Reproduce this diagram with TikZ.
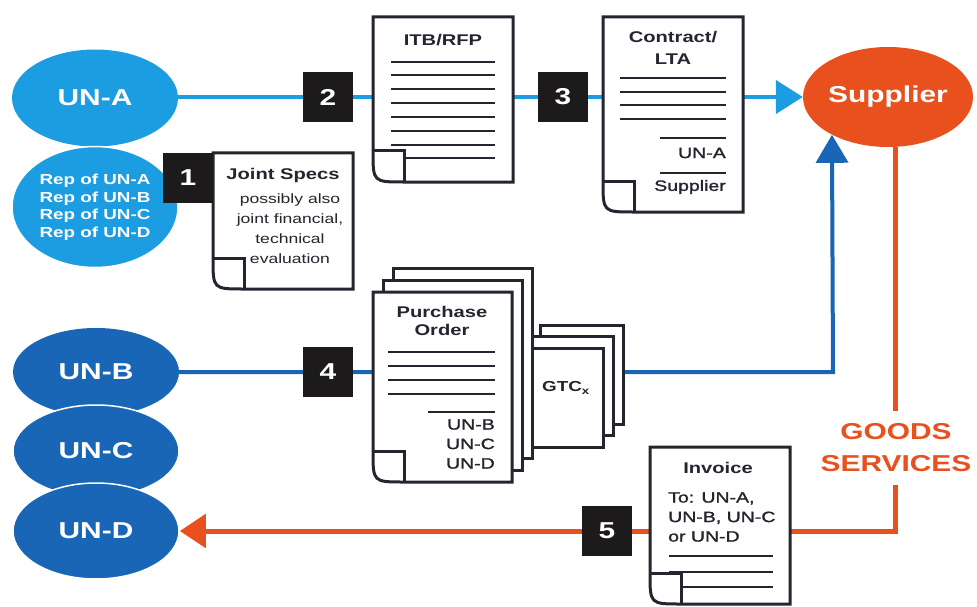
\documentclass[tikz,border=0pt]{standalone}
\usepackage{fontspec}
\setmainfont{Liberation Sans}[FakeStretch=1.3]
\newfontfamily\medfont{Liberation Sans}[FakeStretch=1.3,FakeBold=1.5]
\usepackage{xcolor}
\definecolor{cLight}{HTML}{1C9DE2}
\definecolor{cDark}{HTML}{1A66B6}
\definecolor{cOrange}{HTML}{E8511D}
\definecolor{cInk}{HTML}{25242F}
\definecolor{cBadge}{HTML}{1C1A1B}
\usetikzlibrary{positioning,arrows.meta,shapes.geometric,backgrounds}
\tikzset{
  node-party/.style={ellipse,inner sep=0pt,minimum width=166pt,text=white,
    align=center,font=\bfseries\fontsize{23}{25}\selectfont},
  node-light/.style={node-party,fill=cLight},
  node-dark/.style={node-party,fill=cDark},
  node-cover/.style={draw=white,line width=1.5pt},
  node-badge/.style={fill=cBadge,minimum size=50pt,inner sep=0pt,text=white,
    font=\bfseries\fontsize{23}{25}\selectfont},
  doc-frame/.style={draw=cInk,line width=3pt,fill=white},
  doc-rule/.style={draw=cInk,line width=2.6pt},
  doc-title/.style={text=cInk,align=center,inner sep=0pt,
    font=\bfseries\fontsize{15.5}{18}\selectfont},
  doc-text/.style={text=cInk,align=center,inner sep=0pt,
    font=\fontsize{13.5}{20}\selectfont},
  doc-item/.style={text=cInk,inner sep=0pt,font=\medfont\fontsize{15}{19.5}\selectfont},
  arrow-light/.style={-{Triangle[length=27pt,width=33pt]},line width=4.5pt,draw=cLight},
  arrow-dark/.style={-{Triangle[length=28pt,width=32pt]},line width=4pt,draw=cDark},
  arrow-orange/.style={-{Triangle[length=26pt,width=33pt]},line width=5pt,draw=cOrange},
  % page with a curled corner at the bottom left, origin at its top left
  pics/doc-page/.style n args={2}{code={
    \draw[doc-frame] (0,0) -- (#1,0) -- (#1,#2) -- (31,#2)
      .. controls (0,#2) .. (0,#2-31) -- cycle;
    \draw[doc-frame,fill=none] (0,#2-31) -- (31,#2-31) -- (31,#2);
  }},
  pics/doc-sheet/.style n args={2}{code={
    \draw[doc-frame] (0,0) rectangle (#1,#2);
  }},
}

\begin{document}
\begin{tikzpicture}[x=1pt,y=-1pt]
  \useasboundingbox (0,0) rectangle (977,607);

  % parties
  \node[node-light,minimum height=97pt] (una) at (95,98) {UN-A};
  \node[node-light,node-cover,minimum height=121pt,
    font=\bfseries\fontsize{14.5}{17.5}\selectfont] (reps) at (95,207)
    {Rep of UN-A\\Rep of UN-B\\Rep of UN-C\\Rep of UN-D};
  \node[node-party,fill=cOrange,minimum width=170pt,minimum height=100pt]
    (sup) at (888,97) {Supplier};
  \node[node-dark,minimum height=88pt] (unb) at (96,372) {UN-B};
  \node[node-dark,node-cover,minimum height=92pt] (unc) at (96,451) {UN-C};
  \node[node-dark,node-cover,minimum height=96pt] (und) at (96,531) {UN-D};

  % flows
  \coordinate (po-turn) at (833,372);
  \coordinate (goods-turn) at (895,531);
  \begin{scope}[on background layer]
    \draw[arrow-light] (una.east |- sup) -- (sup);
    \draw[arrow-dark] (unb) -- (po-turn) -- (sup.214.7);
    \draw[arrow-orange] (sup.south -| goods-turn) -- (goods-turn) -- (und);
  \end{scope}
  \node[font=\bfseries\fontsize{23}{32}\selectfont,text=cOrange,fill=white,
    align=center,inner xsep=2pt,inner ysep=13pt] (goods) at (896,448)
    {GOODS\\SERVICES};

  % joint specs
  \pic at (213,153) {doc-page={140}{136}};
  \node[doc-title] (specs) at (283,175) {Joint Specs};
  \node[doc-text] (specs-note) at (290,229)
    {possibly also\\joint financial,\\technical\\evaluation};

  % tender
  \pic at (373,17) {doc-page={140}{165}};
  \node[doc-title] (itb) at (443,40) {ITB/RFP};
  \foreach \y in {62,75,89,103,117,131,145}
    \draw[doc-rule] (391,\y) -- (495,\y);
  \draw[doc-rule] (405,158) -- (495,158);

  % contract
  \pic at (603,17) {doc-page={140}{195}};
  \node[doc-title,font=\bfseries\fontsize{15.5}{21.5}\selectfont] (lta)
    at (673,48) {Contract/\\LTA};
  \foreach \y in {78,92,105,119}
    \draw[doc-rule] (620,\y) -- (726,\y);
  \draw[doc-rule] (660,138) -- (726,138);
  \node[doc-item,anchor=east] (lta-una) at (726,153) {UN-A};
  \draw[doc-rule] (660,173) -- (726,173);
  \node[doc-item,anchor=east] (lta-sup) at (726,187) {Supplier};

  % terms behind the orders
  \foreach \x/\y in {540/325,530/336.5,520/348}
    \pic at (\x,\y) {doc-sheet={83}{99}};
  \node[doc-title,font=\bfseries\fontsize{14.5}{17}\selectfont] (gtc)
    at (566,388) {GTC\textsubscript{x}};

  % purchase orders
  \pic at (393,268) {doc-sheet={139}{190}};
  \pic at (383,280) {doc-sheet={139}{190}};
  \pic at (373,292) {doc-page={139}{190}};
  \node[doc-title] (po) at (442,321) {Purchase\\Order};
  \foreach \y in {352,366,380,394}
    \draw[doc-rule] (388,\y) -- (495,\y);
  \draw[doc-rule] (428,412) -- (495,412);
  \node[doc-item,anchor=east,align=right] (po-parties) at (495,444)
    {UN-B\\UN-C\\UN-D};

  % invoice
  \pic at (650,447) {doc-page={140}{157}};
  \node[doc-title] (inv) at (718,468) {Invoice};
  \node[doc-item,anchor=west,align=left] (inv-to) at (668,517)
    {To: UN-A,\\UN-B, UN-C\\or UN-D};
  \draw[doc-rule] (669,556) -- (773,556);
  \draw[doc-rule] (669,572) -- (773,572);
  \draw[doc-rule] (682,587) -- (773,587);

  % steps
  \node[node-badge] (b1) at (188,178) {1};
  \node[node-badge] (b2) at (328,97) {2};
  \node[node-badge] (b3) at (563,97) {3};
  \node[node-badge] (b4) at (328,372) {4};
  \node[node-badge] (b5) at (607,531) {5};
\end{tikzpicture}
\end{document}
